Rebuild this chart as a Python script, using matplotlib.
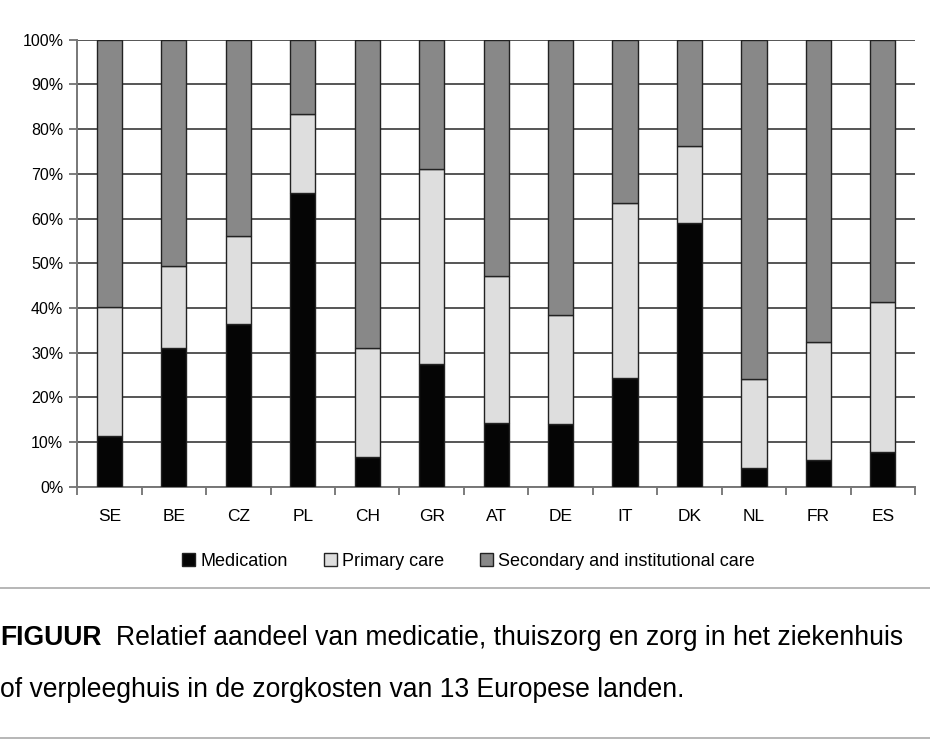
import matplotlib
matplotlib.use("Agg")
import matplotlib.pyplot as plt
from matplotlib.lines import Line2D
import numpy as np

countries = ["SE", "BE", "CZ", "PL", "CH", "GR", "AT", "DE", "IT", "DK", "NL", "FR", "ES"]
medication = [11.3, 31.0, 36.4, 65.8, 6.7, 27.4, 14.3, 14.0, 24.4, 59.1, 4.3, 6.0, 7.8]
primary_care = [29.0, 18.3, 19.8, 17.6, 24.3, 43.6, 32.9, 24.4, 39.0, 17.2, 19.7, 26.3, 33.6]
secondary_care = [100 - m - p for m, p in zip(medication, primary_care)]

series_labels = ["Medication", "Primary care", "Secondary and institutional care"]
colors = ["#050505", "#dedede", "#888888"]

caption_bold = "FIGUUR"
caption_line1 = "Relatief aandeel van medicatie, thuiszorg en zorg in het ziekenhuis"
caption_line2 = "of verpleeghuis in de zorgkosten van 13 Europese landen."

font = ["Liberation Sans", "DejaVu Sans"]

fig = plt.figure(figsize=(9.3, 7.5), dpi=100)
ax = fig.add_axes([0.083, 0.351, 0.901, 0.596])

x = np.arange(len(countries))
bottom = np.zeros(len(countries))
for vals, lab, col in zip([medication, primary_care, secondary_care], series_labels, colors):
    ax.bar(x, vals, width=0.39, bottom=bottom, color=col, edgecolor="#222222",
           linewidth=1.0, label=lab, zorder=3)
    bottom += np.array(vals)

ax.set_xlim(-0.5, len(countries) - 0.5)
ax.set_ylim(0, 100)
ax.set_yticks(np.arange(0, 101, 10))
ax.set_yticklabels([f"{v}%" for v in range(0, 101, 10)], fontsize=11.5, family=font)
ax.set_xticks(x)
ax.set_xticklabels(countries, fontsize=12.5, family=font)
ax.set_xticks(np.arange(-0.5, len(countries)), minor=True)
ax.tick_params(axis="x", which="major", length=0, pad=16)
ax.tick_params(axis="x", which="minor", length=6, color="#666666", width=1.2)
ax.tick_params(axis="y", length=6, color="#666666", width=1.2, pad=4)

ax.grid(axis="y", color="#555555", linewidth=1.4, zorder=0)
for s in ["top", "right"]:
    ax.spines[s].set_visible(False)
for s in ["left", "bottom"]:
    ax.spines[s].set_color("#777777")
    ax.spines[s].set_linewidth(1.4)

fig.legend(loc="center", bbox_to_anchor=(0.504, 0.252), ncol=3, frameon=False,
           prop={"family": font, "size": 13}, handlelength=0.7, handleheight=0.7,
           handletextpad=0.3, columnspacing=2.0)

# separator lines
fig.add_artist(Line2D([0, 1], [1 - 588 / 750, 1 - 588 / 750], color="#aaaaaa", linewidth=1.2))
fig.add_artist(Line2D([0, 1], [1 - 738 / 750, 1 - 738 / 750], color="#aaaaaa", linewidth=1.2))

# caption: shrink the font so line 1 ends near x = 900 px like the reference
size = 21
y1, y2 = 1 - 638 / 750, 1 - 690 / 750
t0 = fig.text(0.0, y1, caption_bold, fontsize=size, fontweight="bold", family=font,
              va="center", ha="left")
t1 = fig.text(0.0, y1, caption_line1, fontsize=size, family=font, va="center", ha="left")
fig.canvas.draw()
gap = 14
total = t0.get_window_extent().width + gap + t1.get_window_extent().width
size = size * 900 / total
t0.set_fontsize(size)
t1.set_fontsize(size)
fig.canvas.draw()
t1.set_x((t0.get_window_extent().x1 + gap) / fig.bbox.width)
fig.text(0.0, y2, caption_line2, fontsize=size, family=font, va="center", ha="left")

fig.savefig("out.png", dpi=100)
